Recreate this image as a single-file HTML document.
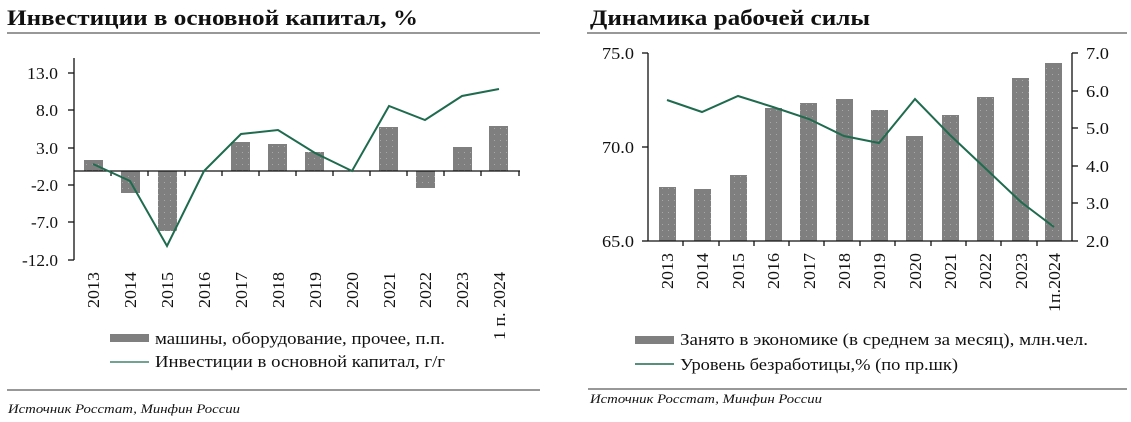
<!DOCTYPE html>
<html><head><meta charset="utf-8"><style>
html,body{margin:0;padding:0;background:#fff;}
svg{display:block;}
text{font-family:"Liberation Serif","DejaVu Serif",serif;fill:#111;}
</style></head><body>
<svg width="1131" height="422" viewBox="0 0 1131 422" xmlns="http://www.w3.org/2000/svg">
<defs><pattern id="dots" width="6" height="6" patternUnits="userSpaceOnUse"><rect width="6" height="6" fill="#7f7f7f"/><rect x="2" y="2" width="1" height="1" fill="#a8a8a8"/></pattern></defs>
<!-- LEFT -->
<text x="7" y="25" font-size="22" font-weight="bold" textLength="411" lengthAdjust="spacingAndGlyphs">Инвестиции в основной капитал, %</text>
<line x1="7" y1="33" x2="540" y2="33" stroke="#777" stroke-width="1.5"/>
<g font-size="17" text-anchor="end" lengthAdjust="spacingAndGlyphs">
<text x="58" y="79" textLength="31" lengthAdjust="spacingAndGlyphs">13.0</text><text x="58" y="116" textLength="22" lengthAdjust="spacingAndGlyphs">8.0</text><text x="58" y="154" textLength="22" lengthAdjust="spacingAndGlyphs">3.0</text>
<text x="58" y="191" textLength="27" lengthAdjust="spacingAndGlyphs">-2.0</text><text x="58" y="228" textLength="27" lengthAdjust="spacingAndGlyphs">-7.0</text><text x="58" y="266" textLength="36" lengthAdjust="spacingAndGlyphs">-12.0</text>
</g>
<g stroke="#111" stroke-width="1.3">
<line x1="74" y1="58" x2="74" y2="260"/>
<line x1="68" y1="73" x2="74" y2="73"/><line x1="68" y1="110" x2="74" y2="110"/><line x1="68" y1="148" x2="74" y2="148"/><line x1="68" y1="185" x2="74" y2="185"/><line x1="68" y1="222" x2="74" y2="222"/><line x1="68" y1="260" x2="74" y2="260"/>
</g>
<g fill="url(#dots)">
<rect x="84" y="160" width="19" height="11"/><rect x="121" y="171" width="19" height="22"/><rect x="158" y="171" width="19" height="60"/>
<rect x="231" y="142" width="19" height="29"/><rect x="268" y="144" width="19" height="27"/><rect x="305" y="152" width="19" height="19"/>
<rect x="379" y="127" width="19" height="44"/><rect x="416" y="171" width="19" height="17"/><rect x="453" y="147" width="19" height="24"/><rect x="489" y="126" width="19" height="45"/>
</g>
<g stroke="#111" stroke-width="1.3">
<line x1="74" y1="171" x2="520" y2="171"/>
<line x1="111" y1="171" x2="111" y2="176"/><line x1="148" y1="171" x2="148" y2="176"/><line x1="185" y1="171" x2="185" y2="176"/><line x1="222" y1="171" x2="222" y2="176"/><line x1="259" y1="171" x2="259" y2="176"/><line x1="296" y1="171" x2="296" y2="176"/><line x1="333" y1="171" x2="333" y2="176"/><line x1="370" y1="171" x2="370" y2="176"/><line x1="407" y1="171" x2="407" y2="176"/><line x1="444" y1="171" x2="444" y2="176"/><line x1="481" y1="171" x2="481" y2="176"/><line x1="519" y1="171" x2="519" y2="176"/>
</g>
<polyline fill="none" stroke="#1f6b4f" stroke-width="2" points="93,164 130,181 167,246 204,171 241,134 278,130 315,153 352,171 389,106 425,120 462,96 499,89"/>
<g font-size="17" text-anchor="end">
<text transform="translate(99,272) rotate(-90)" textLength="36" lengthAdjust="spacingAndGlyphs">2013</text><text transform="translate(136,272) rotate(-90)" textLength="36" lengthAdjust="spacingAndGlyphs">2014</text><text transform="translate(173,272) rotate(-90)" textLength="36" lengthAdjust="spacingAndGlyphs">2015</text><text transform="translate(210,272) rotate(-90)" textLength="36" lengthAdjust="spacingAndGlyphs">2016</text><text transform="translate(247,272) rotate(-90)" textLength="36" lengthAdjust="spacingAndGlyphs">2017</text><text transform="translate(284,272) rotate(-90)" textLength="36" lengthAdjust="spacingAndGlyphs">2018</text><text transform="translate(321,272) rotate(-90)" textLength="36" lengthAdjust="spacingAndGlyphs">2019</text><text transform="translate(358,272) rotate(-90)" textLength="36" lengthAdjust="spacingAndGlyphs">2020</text><text transform="translate(395,272) rotate(-90)" textLength="36" lengthAdjust="spacingAndGlyphs">2021</text><text transform="translate(431,272) rotate(-90)" textLength="36" lengthAdjust="spacingAndGlyphs">2022</text><text transform="translate(468,272) rotate(-90)" textLength="36" lengthAdjust="spacingAndGlyphs">2023</text><text transform="translate(505,272) rotate(-90)" textLength="68" lengthAdjust="spacingAndGlyphs">1 п. 2024</text>
</g>
<rect x="110" y="334" width="39" height="8" fill="#7f7f7f"/>
<text x="155" y="344" font-size="17" textLength="290" lengthAdjust="spacingAndGlyphs">машины, оборудование, прочее, п.п.</text>
<line x1="110" y1="362" x2="149" y2="362" stroke="#1f6b4f" stroke-width="1.3"/>
<text x="155" y="367" font-size="17" textLength="290" lengthAdjust="spacingAndGlyphs">Инвестиции в основной капитал, г/г</text>
<line x1="7" y1="390" x2="540" y2="390" stroke="#777" stroke-width="1.5"/>
<text x="8" y="413" font-size="13" font-style="italic" textLength="232" lengthAdjust="spacingAndGlyphs">Источник Росстат, Минфин России</text>

<!-- RIGHT -->
<text x="590" y="25" font-size="22" font-weight="bold" textLength="280" lengthAdjust="spacingAndGlyphs">Динамика рабочей силы</text>
<line x1="587" y1="33" x2="1127" y2="33" stroke="#777" stroke-width="1.5"/>
<g font-size="17" text-anchor="end">
<text x="634" y="59" textLength="32" lengthAdjust="spacingAndGlyphs">75.0</text><text x="634" y="153" textLength="32" lengthAdjust="spacingAndGlyphs">70.0</text><text x="634" y="247" textLength="32" lengthAdjust="spacingAndGlyphs">65.0</text>
</g>
<g font-size="17">
<text x="1086" y="59" textLength="23" lengthAdjust="spacingAndGlyphs">7.0</text><text x="1086" y="97" textLength="23" lengthAdjust="spacingAndGlyphs">6.0</text><text x="1086" y="134" textLength="23" lengthAdjust="spacingAndGlyphs">5.0</text><text x="1086" y="172" textLength="23" lengthAdjust="spacingAndGlyphs">4.0</text><text x="1086" y="209" textLength="23" lengthAdjust="spacingAndGlyphs">3.0</text><text x="1086" y="247" textLength="23" lengthAdjust="spacingAndGlyphs">2.0</text>
</g>
<g fill="url(#dots)">
<rect x="659" y="187" width="17" height="54"/><rect x="694" y="189" width="17" height="52"/><rect x="730" y="175" width="17" height="66"/><rect x="765" y="108" width="17" height="133"/>
<rect x="800" y="103" width="17" height="138"/><rect x="836" y="99" width="17" height="142"/><rect x="871" y="110" width="17" height="131"/><rect x="906" y="136" width="17" height="105"/>
<rect x="942" y="115" width="17" height="126"/><rect x="977" y="97" width="17" height="144"/><rect x="1012" y="78" width="17" height="163"/><rect x="1045" y="63" width="17" height="178"/>
</g>
<g stroke="#111" stroke-width="1.3">
<line x1="648" y1="53" x2="648" y2="241"/><line x1="642" y1="53" x2="648" y2="53"/><line x1="642" y1="147" x2="648" y2="147"/><line x1="642" y1="241" x2="648" y2="241"/>
<line x1="1072" y1="53" x2="1072" y2="241"/>
<line x1="1072" y1="53" x2="1078" y2="53"/><line x1="1072" y1="91" x2="1078" y2="91"/><line x1="1072" y1="128" x2="1078" y2="128"/><line x1="1072" y1="166" x2="1078" y2="166"/><line x1="1072" y1="203" x2="1078" y2="203"/><line x1="1072" y1="241" x2="1078" y2="241"/>
<line x1="648" y1="241" x2="1072" y2="241"/>
<line x1="683" y1="241" x2="683" y2="246"/><line x1="719" y1="241" x2="719" y2="246"/><line x1="754" y1="241" x2="754" y2="246"/><line x1="789" y1="241" x2="789" y2="246"/><line x1="824" y1="241" x2="824" y2="246"/><line x1="860" y1="241" x2="860" y2="246"/><line x1="895" y1="241" x2="895" y2="246"/><line x1="931" y1="241" x2="931" y2="246"/><line x1="966" y1="241" x2="966" y2="246"/><line x1="1001" y1="241" x2="1001" y2="246"/><line x1="1037" y1="241" x2="1037" y2="246"/>
</g>
<polyline fill="none" stroke="#1f6b4f" stroke-width="2" points="667,100 702,112 738,96 773,107 809,119 844,136 879,143 915,99 950,135 985,168 1021,202 1054,227"/>
<g font-size="17" text-anchor="end">
<text transform="translate(673,253) rotate(-90)" textLength="36" lengthAdjust="spacingAndGlyphs">2013</text><text transform="translate(708,253) rotate(-90)" textLength="36" lengthAdjust="spacingAndGlyphs">2014</text><text transform="translate(744,253) rotate(-90)" textLength="36" lengthAdjust="spacingAndGlyphs">2015</text><text transform="translate(779,253) rotate(-90)" textLength="36" lengthAdjust="spacingAndGlyphs">2016</text><text transform="translate(815,253) rotate(-90)" textLength="36" lengthAdjust="spacingAndGlyphs">2017</text><text transform="translate(850,253) rotate(-90)" textLength="36" lengthAdjust="spacingAndGlyphs">2018</text><text transform="translate(885,253) rotate(-90)" textLength="36" lengthAdjust="spacingAndGlyphs">2019</text><text transform="translate(921,253) rotate(-90)" textLength="36" lengthAdjust="spacingAndGlyphs">2020</text><text transform="translate(956,253) rotate(-90)" textLength="36" lengthAdjust="spacingAndGlyphs">2021</text><text transform="translate(991,253) rotate(-90)" textLength="36" lengthAdjust="spacingAndGlyphs">2022</text><text transform="translate(1027,253) rotate(-90)" textLength="36" lengthAdjust="spacingAndGlyphs">2023</text><text transform="translate(1060,253) rotate(-90)" textLength="59" lengthAdjust="spacingAndGlyphs">1п.2024</text>
</g>
<rect x="635" y="336" width="39" height="8" fill="#7f7f7f"/>
<text x="680" y="345" font-size="17" textLength="408" lengthAdjust="spacingAndGlyphs">Занято в экономике (в среднем за месяц), млн.чел.</text>
<line x1="635" y1="364" x2="674" y2="364" stroke="#1f6b4f" stroke-width="1.5"/>
<text x="680" y="370" font-size="17" textLength="278" lengthAdjust="spacingAndGlyphs">Уровень безработицы,% (по пр.шк)</text>
<line x1="588" y1="389" x2="1127" y2="389" stroke="#777" stroke-width="1.5"/>
<text x="590" y="403" font-size="13" font-style="italic" textLength="232" lengthAdjust="spacingAndGlyphs">Источник Росстат, Минфин России</text>
</svg>
</body></html>
